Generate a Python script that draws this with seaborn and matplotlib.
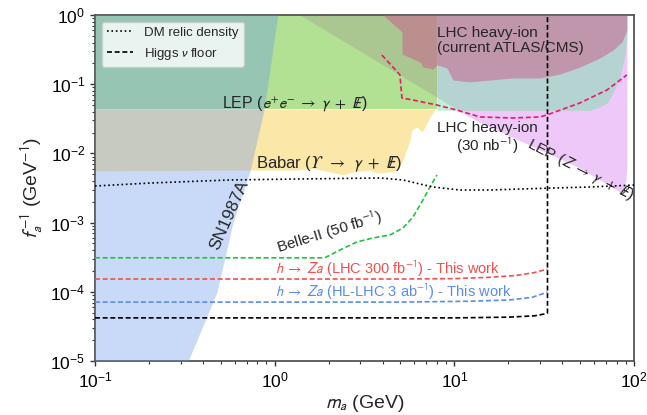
import numpy as np
import matplotlib
matplotlib.use("Agg")
import matplotlib.pyplot as plt
import seaborn as sns

# ── Values (x = m_a in GeV, y = 1/f_a in GeV^-1) ─────────────────────────────

# SN1987A: excluded from the left edge up to this boundary
sn_y = [1e-5, 2.54e-5, 1e-4, 1e-3, 5.6e-3, 0.0425, 0.2, 1.0]
sn_x = [0.33, 0.384, 0.478, 0.586, 0.73, 0.872, 0.953, 1.04]

# Babar (Upsilon -> gamma + inv)
babar_x = [0.1, 0.73, 1.33, 1.63, 2.03, 2.40, 2.73, 3.39, 3.71, 4.38, 4.80,
           5.18, 5.67, 5.81, 6.20, 6.61, 7.04, 7.32, 7.60, 7.80]
babar_lo = [0.0056, 0.00575, 0.00575, 0.0061, 0.0054, 0.0049, 0.0054, 0.00575,
            0.0052, 0.0054, 0.00575, 0.0080, 0.0156, 0.0218, 0.0241, 0.0204,
            0.0275, 0.0336, 0.0384, 0.0438]
babar_hi = 0.0438

# LEP (e+e- -> gamma + inv)
lep_x = [0.1, 8.0]
lep_lo = 0.0438

# LEP (Z -> gamma + inv)
lepz_x = [1.38, 3.39, 8.0, 11.2, 13.9, 26.3, 50.0, 70.7, 83.5, 87.9, 90.2, 91.3]
lepz_lo = [1.0, 0.247, 0.065, 0.038, 0.028, 0.0132, 0.00615, 0.0036, 0.00277,
           0.00316, 0.00413, 0.00636]

# LHC heavy-ion (30 nb^-1) shaded band
hi30_x = [8.0, 56.9, 64.6, 70.7, 76.4, 83.5, 89.0, 91.3]
hi30_lo = [0.042, 0.042, 0.047, 0.0535, 0.0745, 0.127, 0.264, 0.48]

# LHC heavy-ion (current ATLAS/CMS)
hicur_x = [4.01, 5.11, 5.12, 6.44, 6.69, 7.60, 8.0, 9.1, 9.82, 12.2, 15.8,
           21.2, 29.9, 38.7, 50.0, 64.6, 76.4, 85.7, 91.3]
hicur_lo = [1.0, 0.568, 0.273, 0.209, 0.177, 0.166, 0.19, 0.171, 0.115, 0.108,
            0.115, 0.123, 0.123, 0.14, 0.177, 0.239, 0.312, 0.407, 0.61]

# LHC heavy-ion projection (dashed)
hiproj_x = [3.95, 4.55, 4.98, 5.11, 5.88, 8.0, 10.3, 13.9, 21.2, 29.9, 32.7,
            50.0, 70.7, 91.3]
hiproj_y = [0.264, 0.177, 0.136, 0.0632, 0.0591, 0.050, 0.0424, 0.0336, 0.0325,
            0.0336, 0.0359, 0.0535, 0.0824, 0.136]

# DM relic density
dm_x = [0.1, 0.202, 0.564, 1.38, 3.86, 5.18, 6.44, 7.60, 10.7, 15.8, 35.4,
        56.9, 100.0]
dm_y = [0.00338, 0.00373, 0.00413, 0.00427, 0.00441, 0.00413, 0.00361, 0.00327,
        0.00296, 0.00296, 0.00316, 0.00327, 0.00349]

# Higgs neutrino floor
floor_x = [0.1, 10.0, 20.0, 28.0, 32.0, 33.0, 33.0]
floor_y = [4.2e-5, 4.2e-5, 4.3e-5, 4.5e-5, 4.8e-5, 4.95e-5, 1.0]

# Belle-II (50 fb^-1)
belle_x = [0.1, 1.9, 2.31, 2.87, 3.52, 4.38, 5.18, 5.88, 6.69, 7.32, 8.0]
belle_y = [3.1e-4, 3.1e-4, 4.02e-4, 5.25e-4, 5.99e-4, 6.62e-4, 8.36e-4, 1.2e-3,
           2.12e-3, 3.27e-3, 4.87e-3]

# h -> Za, LHC 300 fb^-1 and HL-LHC 3 ab^-1
lhc_x = [0.1, 5.0, 10.0, 15.8, 22.0, 28.0, 33.0]
lhc_y = [1.53e-4, 1.53e-4, 1.55e-4, 1.62e-4, 1.72e-4, 1.9e-4, 2.13e-4]
hllhc_x = [0.1, 5.0, 12.0, 20.0, 27.0, 33.0]
hllhc_y = [7.1e-5, 7.1e-5, 7.3e-5, 7.6e-5, 8.3e-5, 9.9e-5]

# ── Style ─────────────────────────────────────────────────────────────────────

sns.set_style("ticks")
plt.rcParams.update({
    "font.family": ["Liberation Sans", "DejaVu Sans"],
    "mathtext.fontset": "stixsans",
    "axes.edgecolor": "#555555",
    "axes.linewidth": 1.3,
    "xtick.color": "#333333",
    "ytick.color": "#333333",
    "xtick.labelcolor": "black",
    "ytick.labelcolor": "black",
})

C_SN = "#6495ed"
C_BABAR = "#f4bd06"
C_LEP = "#67c52b"
C_LEPZ = "#df93f5"
C_HI30 = "#71e1a1"
C_HICUR = "#cc5a8a"
C_PINK = "#e8196f"
C_GREEN = "#22c33a"
C_RED = "#f25050"
C_BLUE = "#5a8cf0"

MET = r"E\!\!\!/\,"   # missing energy, slashed E
TO = r"\;\to\;"
PLUS = r"\;+\;"

fig, ax = plt.subplots(figsize=(6.47, 4.15), dpi=100)
fig.subplots_adjust(left=0.1468, right=0.9799, bottom=0.1301, top=0.9639)
ax.set_xscale("log")
ax.set_yscale("log")

# shaded exclusions
ax.fill_between(lepz_x, lepz_lo, 1.0, color=C_LEPZ, alpha=0.5, lw=0, zorder=1)
ax.fill_between(lep_x, lep_lo, 1.0, color=C_LEP, alpha=0.5, lw=0, zorder=2)
ax.fill_between(babar_x, babar_lo, babar_hi, color=C_BABAR, alpha=0.35, lw=0, zorder=2)
ax.fill_between(hi30_x, hi30_lo, 1.0, color=C_HI30, alpha=0.45, lw=0, zorder=2)
ax.fill_betweenx(sn_y, 0.1, sn_x, color=C_SN, alpha=0.35, lw=0, zorder=3)
ax.fill_between(hicur_x, hicur_lo, 1.0, color=C_HICUR, alpha=0.5, lw=0, zorder=4)

dash = (0, (3.0, 1.6))
sns.lineplot(x=hiproj_x, y=hiproj_y, ax=ax, color=C_PINK, lw=1.2, linestyle=dash,
             estimator=None, sort=False, zorder=5)
sns.lineplot(x=belle_x, y=belle_y, ax=ax, color=C_GREEN, lw=1.2, linestyle=dash,
             estimator=None, sort=False, zorder=5)
sns.lineplot(x=lhc_x, y=lhc_y, ax=ax, color=C_RED, lw=1.2, linestyle=dash,
             estimator=None, sort=False, zorder=5)
sns.lineplot(x=hllhc_x, y=hllhc_y, ax=ax, color=C_BLUE, lw=1.2, linestyle=dash,
             estimator=None, sort=False, zorder=5)
sns.lineplot(x=dm_x, y=dm_y, ax=ax, color="black", lw=1.2, linestyle=":",
             estimator=None, sort=False, zorder=5, label="DM relic density")
sns.lineplot(x=floor_x, y=floor_y, ax=ax, color="black", lw=1.2, linestyle=dash,
             estimator=None, sort=False, zorder=5, label=r"Higgs $\nu$ floor")

# labels on the plot
ax.text(0.51, 0.0455, r"LEP ($e^{+}e^{-}" + TO + r"\gamma" + PLUS + MET + "$)",
        fontsize=11.5, ha="left", va="baseline", zorder=6)
ax.text(0.79, 0.00615,
        "Babar ($\u03d2\\;\\:\\to\\;\\:\\gamma" + PLUS + MET + "$)",
        fontsize=12, ha="left", va="baseline", zorder=6)
ax.text(8.0, 0.69, "LHC heavy-ion\n(current ATLAS/CMS)", fontsize=11,
        ha="left", va="top", linespacing=1.05, zorder=6)
ax.text(15.2, 0.0294, "LHC heavy-ion\n" + r"(30 nb$^{-1}$)", fontsize=11,
        ha="center", va="top", multialignment="center", linespacing=1.05, zorder=6)
ax.text(50.0, 0.00575, r"LEP ($Z" + TO + r"\gamma" + PLUS + MET + "$)", fontsize=11,
        rotation=-27, rotation_mode="anchor", ha="center", va="center", zorder=6)
ax.text(0.557, 1.29e-3, "SN1987A", fontsize=12.5, rotation=66,
        rotation_mode="anchor", ha="center", va="center", zorder=6)
ax.text(2.03, 7.3e-4, r"Belle-II (50 fb$^{-1}$)", fontsize=11, rotation=17,
        rotation_mode="anchor", ha="center", va="center", zorder=6)
ax.text(1.0, 1.81e-4, r"$h" + TO + r"Za$ (LHC 300 fb$^{-1}$) - This work",
        fontsize=10.5, color=C_RED, ha="left", va="baseline", zorder=6)
ax.text(1.0, 8.4e-5, r"$h" + TO + r"Za$ (HL-LHC 3 ab$^{-1}$) - This work",
        fontsize=10.5, color=C_BLUE, ha="left", va="baseline", zorder=6)

ax.set_xlim(0.1, 100)
ax.set_ylim(1e-5, 1)
ax.set_xlabel(r"$m_a$ (GeV)", fontsize=14, labelpad=2)
ax.set_ylabel(r"$f_a^{-1}$ (GeV$^{-1}$)", fontsize=14, labelpad=4)
ax.tick_params(which="major", labelsize=12.5, length=3.5, width=1)
ax.tick_params(which="minor", length=2, width=0.8)
for side in ["top", "right"]:
    ax.spines[side].set_visible(True)

handles, labels = ax.get_legend_handles_labels()
ax.legend(handles, labels, loc="upper left", fontsize=9.5, framealpha=0.8,
          edgecolor="#cccccc", fancybox=True)

fig.savefig("out.png", dpi=100)
